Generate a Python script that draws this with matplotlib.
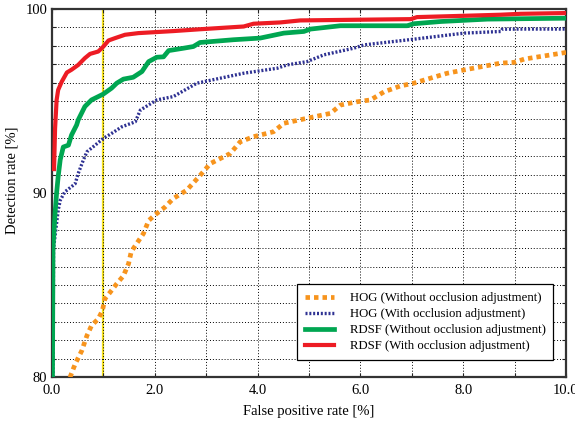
"""ROC-style comparison of HOG and RDSF detectors, with and without occlusion adjustment"""
import matplotlib
matplotlib.use('Agg')
import matplotlib.pyplot as plt
from matplotlib.ticker import MultipleLocator, FormatStrFormatter

plt.rcParams['font.family'] = ['Liberation Serif', 'DejaVu Serif']
plt.rcParams['font.size'] = 10.5

# HOG (Without occlusion adjustment)
hog_x = [0.35, 0.45, 0.58, 0.68, 0.77, 0.9, 0.98, 1.03, 1.13, 1.26, 1.39, 1.49, 1.54,
         1.58, 1.78, 1.88, 2.0, 2.2, 2.36, 2.62, 2.88, 3.08, 3.47, 3.66, 3.92, 4.31,
         4.51, 4.96, 5.42, 5.61, 5.94, 6.2, 6.46, 6.78, 7.04, 7.3, 7.69, 8.02, 8.73,
         8.99, 9.19, 9.71, 10.0]
hog_y = [79.98, 80.7, 81.43, 82.25, 82.8, 83.16, 83.6, 84.25, 84.6, 85.07, 85.5, 86.16,
         86.79, 86.97, 87.8, 88.5, 88.8, 89.24, 89.7, 90.15, 90.95, 91.6, 92.15, 92.78,
         93.06, 93.33, 93.79, 94.06, 94.33, 94.78, 94.96, 95.06, 95.5, 95.82, 95.97,
         96.19, 96.51, 96.69, 97.06, 97.1, 97.28, 97.51, 97.64]

# HOG (With occlusion adjustment)
hog_occ_x = [0.02, 0.03, 0.12, 0.16, 0.25, 0.45, 0.51, 0.61, 0.68, 0.84, 1.0, 1.16,
             1.36, 1.62, 1.72, 2.04, 2.36, 2.82, 3.73, 4.38, 4.57, 4.96, 5.29, 5.87,
             6.07, 7.04, 8.02, 8.73, 8.76, 9.12, 10.0]
hog_occ_y = [80.0, 86.97, 89.06, 89.6, 90.06, 90.5, 91.06, 91.79, 92.24, 92.6, 92.97,
             93.24, 93.6, 93.87, 94.51, 95.06, 95.24, 95.97, 96.51, 96.78, 96.96, 97.14,
             97.51, 97.87, 98.05, 98.36, 98.69, 98.78, 98.9, 98.91, 98.91]

# RDSF (Without occlusion adjustment)
rdsf_x = [0.01, 0.02, 0.06, 0.09, 0.12, 0.16, 0.22, 0.32, 0.38, 0.48, 0.51, 0.64, 0.77,
          0.9, 1.0, 1.16, 1.26, 1.39, 1.58, 1.75, 1.88, 2.04, 2.17, 2.27, 2.36, 2.56,
          2.75, 2.88, 3.53, 4.05, 4.51, 4.9, 5.03, 5.61, 6.91, 7.04, 7.56, 8.47, 10.0]
rdsf_y = [80.0, 87.0, 88.9, 90.0, 90.88, 91.8, 92.5, 92.6, 93.15, 93.7, 93.97, 94.7,
          95.06, 95.24, 95.38, 95.7, 95.97, 96.19, 96.29, 96.6, 97.14, 97.38, 97.4,
          97.74, 97.78, 97.87, 97.96, 98.18, 98.33, 98.42, 98.69, 98.78, 98.91, 99.09,
          99.09, 99.2, 99.32, 99.45, 99.5]

# RDSF (With occlusion adjustment)
rdsf_occ_x = [0.04, 0.06, 0.09, 0.12, 0.19, 0.29, 0.38, 0.51, 0.64, 0.74, 0.9, 1.0,
              1.1, 1.23, 1.42, 1.68, 2.36, 2.88, 3.73, 3.92, 4.44, 4.83, 6.98, 7.1,
              8.0, 8.73, 9.12, 10.0]
rdsf_occ_y = [91.3, 93.5, 95.05, 95.6, 96.05, 96.55, 96.7, 96.96, 97.33, 97.56, 97.69,
              97.96, 98.29, 98.42, 98.6, 98.69, 98.8, 98.9, 99.05, 99.2, 99.27, 99.38,
              99.45, 99.56, 99.63, 99.69, 99.74, 99.78]

fig = plt.figure(figsize=(5.75, 4.21), dpi=100)
ax = fig.add_axes([0.0904, 0.1045, 0.894, 0.8741])

# reference false positive rate of 1%
ax.axvline(1.0, color='#F4E01C', linewidth=1.6, zorder=1)

ax.plot(hog_x, hog_y, color='#F7941D', linewidth=3.4, linestyle=(0, (0.95, 0.85)),
        dash_capstyle='butt', label='HOG (Without occlusion adjustment)', zorder=3)
ax.plot(hog_occ_x, hog_occ_y, color='#2E3192', linewidth=2.4, linestyle=(0, (0.6, 0.55)),
        dash_capstyle='butt', label='HOG (With occlusion adjustment)', zorder=3)
ax.plot(rdsf_x, rdsf_y, color='#00A651', linewidth=3.4,
        label='RDSF (Without occlusion adjustment)', zorder=4)
ax.plot(rdsf_occ_x, rdsf_occ_y, color='#ED1C24', linewidth=3.0,
        label='RDSF (With occlusion adjustment)', zorder=5)

ax.set_xlim(0, 10)
ax.set_ylim(80, 100)
ax.xaxis.set_major_locator(MultipleLocator(2))
ax.xaxis.set_minor_locator(MultipleLocator(1))
ax.yaxis.set_major_locator(MultipleLocator(10))
ax.yaxis.set_minor_locator(MultipleLocator(1))
ax.xaxis.set_major_formatter(FormatStrFormatter('%.1f'))

ax.grid(True, which='both', color='black', linestyle=(0, (1, 2)), linewidth=0.7, zorder=0)
ax.tick_params(which='both', direction='in', top=True, right=True, length=3,
               width=0.8, colors='#222222', labelcolor='black')
ax.tick_params(axis='x', pad=5)
for spine in ax.spines.values():
    spine.set_linewidth(1.6)
    spine.set_color('#333333')

ax.set_xlabel('False positive rate [%]', labelpad=6)
ax.set_ylabel('Detection rate [%]')
ax.yaxis.set_label_coords(-0.065, 0.535)

leg = ax.legend(loc='lower right', bbox_to_anchor=(0.975, 0.046), fancybox=False,
                framealpha=1, edgecolor='black', borderpad=0.6, handlelength=2.3,
                handletextpad=1.2, labelspacing=0.32, fontsize=9.2, borderaxespad=0)
leg.get_frame().set_linewidth(0.9)

fig.savefig('out.png', dpi=100)
